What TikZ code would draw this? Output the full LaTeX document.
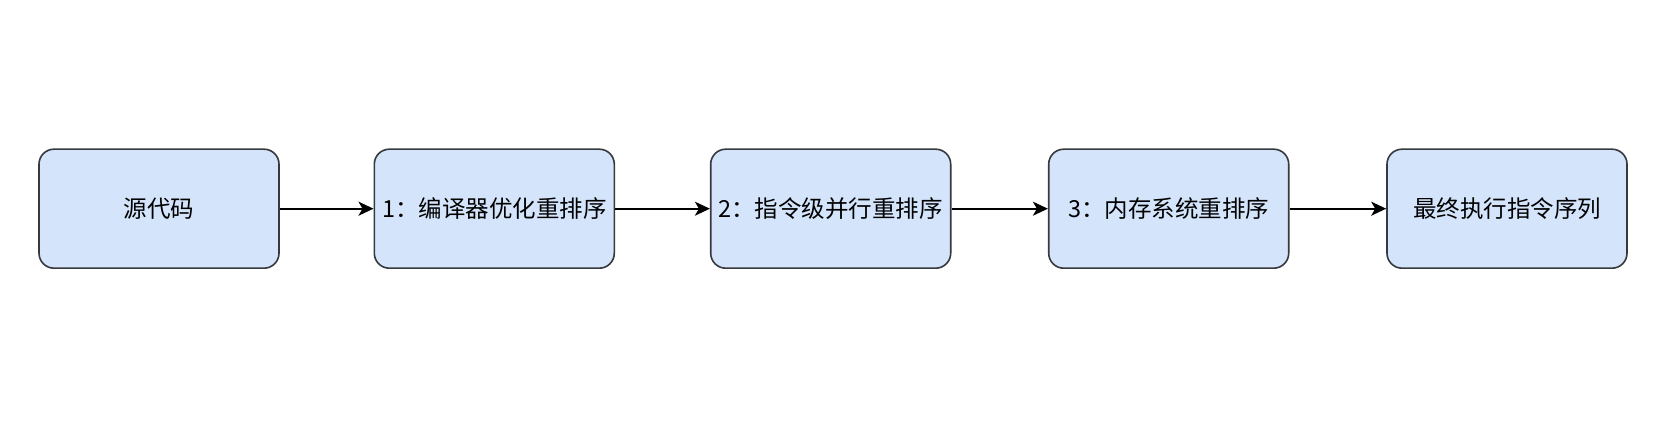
\documentclass[tikz,border=0pt]{standalone}
\usepackage{fontspec}
\setmainfont{Noto Sans CJK SC}
\usetikzlibrary{arrows.meta}
\definecolor{boxfill}{HTML}{D4E5FB}
\definecolor{boxline}{HTML}{36393D}
\tikzset{
  stepbox/.style={draw=boxline, fill=boxfill, line width=1.6pt, rounded corners=15pt,
    minimum width=240pt, minimum height=119pt, inner sep=0pt, font=\fontsize{23.5pt}{28pt}\selectfont},
  link/.style={line width=1.8pt, -{Stealth[length=15pt,width=14pt,inset=4pt]}}
}
\begin{document}
\begin{tikzpicture}[x=1pt,y=1pt]
\useasboundingbox (0,0) rectangle (1672,422);
\node[stepbox] (a) at (159,213.3) {源代码};
\node[stepbox] (b) at (494.3,213.3) {1：编译器优化重排序};
\node[stepbox] (c) at (830.7,213.3) {2：指令级并行重排序};
\node[stepbox] (d) at (1168.7,213.3) {3：内存系统重排序};
\node[stepbox] (e) at (1507,213.3) {最终执行指令序列};
\draw[link] (a) -- (b);
\draw[link] (b) -- (c);
\draw[link] (c) -- (d);
\draw[link] (d) -- (e);
\end{tikzpicture}
\end{document}
